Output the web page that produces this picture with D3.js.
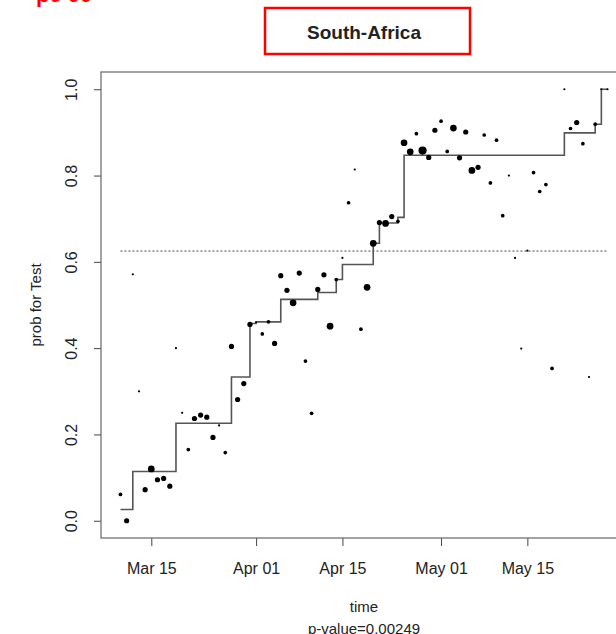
<!DOCTYPE html>
<html>
<head>
<meta charset="utf-8">
<script src="https://cdnjs.cloudflare.com/ajax/libs/d3/7.8.5/d3.min.js"></script>
<style>
  body { margin: 0; background: #fff; }
  svg { display: block; font-family: "Liberation Sans", Arial, sans-serif; }
</style>
</head>
<body>
<svg id="chart" width="616" height="634"></svg>
<script>
var width = 616,
    height = 634;

// daily estimates (point size ~ sample weight)
var dates = [
  "2020-03-10","2020-03-11","2020-03-12","2020-03-13","2020-03-14","2020-03-15","2020-03-16","2020-03-17",
  "2020-03-18","2020-03-19","2020-03-20","2020-03-21","2020-03-22","2020-03-23","2020-03-24","2020-03-25",
  "2020-03-26","2020-03-27","2020-03-28","2020-03-29","2020-03-30","2020-03-31","2020-04-01","2020-04-02",
  "2020-04-03","2020-04-04","2020-04-05","2020-04-06","2020-04-07","2020-04-08","2020-04-09","2020-04-10",
  "2020-04-11","2020-04-12","2020-04-13","2020-04-14","2020-04-15","2020-04-16","2020-04-17","2020-04-18",
  "2020-04-19","2020-04-20","2020-04-21","2020-04-22","2020-04-23","2020-04-24","2020-04-25","2020-04-26",
  "2020-04-27","2020-04-28","2020-04-29","2020-04-30","2020-05-01","2020-05-02","2020-05-03","2020-05-04",
  "2020-05-05","2020-05-06","2020-05-07","2020-05-08","2020-05-09","2020-05-10","2020-05-11","2020-05-12",
  "2020-05-13","2020-05-14","2020-05-15","2020-05-16","2020-05-17","2020-05-18","2020-05-19","2020-05-21",
  "2020-05-22","2020-05-23","2020-05-24","2020-05-25","2020-05-26","2020-05-27","2020-05-28"
];
var probs = [
  0.061,0.000,0.571,0.300,0.072,0.120,0.095,0.098,
  0.080,0.400,0.250,0.165,0.237,0.245,0.240,0.193,
  0.221,0.158,0.404,0.281,0.318,0.455,0.460,0.433,
  0.461,0.411,0.568,0.534,0.505,0.574,0.370,0.249,
  0.536,0.570,0.451,0.559,0.609,0.737,0.814,0.444,
  0.541,0.643,0.691,0.689,0.705,0.694,0.876,0.855,
  0.897,0.858,0.842,0.905,0.926,0.856,0.910,0.841,
  0.901,0.812,0.819,0.894,0.783,0.882,0.707,0.800,
  0.609,0.399,0.626,0.807,0.763,0.779,0.353,1.000,
  0.909,0.923,0.874,0.333,0.919,1.000,1.000
];
var weights = [
  2,3,1,1,3,4,3,3,
  3,1,1,2,3,3,3,3,
  1,2,3,3,3,3,1,2,
  2,3,3,3,4,3,2,2,
  3,3,4,2,1,2,1,2,
  4,4,3,4,3,2,4,4,
  2,5,3,3,2,2,4,3,
  3,4,3,2,2,2,2,1,
  1,1,1,2,2,2,2,1,
  2,3,2,1,2,1,1
];

// fitted step function
var stepDates = ["2020-03-10","2020-03-12","2020-03-19","2020-03-28","2020-03-31","2020-04-01","2020-04-05",
  "2020-04-11","2020-04-14","2020-04-15","2020-04-20","2020-04-21","2020-04-24","2020-04-25","2020-05-21",
  "2020-05-26","2020-05-27","2020-05-28"];
var stepLevels = [0.026,0.114,0.226,0.333,0.457,0.461,0.513,
  0.529,0.559,0.594,0.643,0.690,0.703,0.847,0.899,
  0.919,1.000,1.000];

var threshold = 0.625;
var xTicks = ["2020-03-15","2020-04-01","2020-04-15","2020-05-01","2020-05-15"];
var yTicks = [0, 0.2, 0.4, 0.6, 0.8, 1.0];
var title = "South-Africa";
var pvalue = "p-value=0.00249";

var parse = d3.utcParse("%Y-%m-%d");
var pts = dates.map(function(d, i) { return { t: parse(d), p: probs[i], w: weights[i] }; });
var steps = stepDates.map(function(d, i) { return { t: parse(d), p: stepLevels[i] }; });

var plotL = 101, plotR = 627, plotT = 72, plotB = 538;

var tExt = d3.extent(pts, d => d.t);
var pad = (tExt[1] - tExt[0]) * 0.04;
var x = d3.scaleUtc()
    .domain([new Date(+tExt[0] - pad), new Date(+tExt[1] + pad)])
    .range([plotL, plotR]);
var y = d3.scaleLinear().domain([-0.04, 1.04]).range([plotB, plotT]);
var r = d3.scaleLinear().domain([1, 5]).range([1.1, 4.1]);

var svg = d3.select("#chart");

// cut-off red label at the very top
svg.append("text")
    .attr("x", 36).attr("y", 2)
    .attr("fill", "#ff0000")
    .attr("font-weight", "bold")
    .attr("font-size", 22)
    .text("p0 00");

// title box
svg.append("rect")
    .attr("x", 265).attr("y", 8)
    .attr("width", 205).attr("height", 46)
    .attr("fill", "none")
    .attr("stroke", "#ff0000")
    .attr("stroke-width", 2.5);
svg.append("text")
    .attr("x", 364).attr("y", 39)
    .attr("text-anchor", "middle")
    .attr("font-weight", "bold")
    .attr("font-size", 19)
    .attr("fill", "#222")
    .text(title);

// axes
var xAxis = svg.append("g")
    .attr("transform", "translate(0," + plotB + ")")
    .call(d3.axisBottom(x).tickValues(xTicks.map(parse)).tickFormat(d3.utcFormat("%b %d")).tickSize(8).tickSizeOuter(0));
xAxis.select(".domain").remove();
xAxis.selectAll("line").attr("stroke", "#444");
xAxis.selectAll("text").attr("font-size", 16).attr("fill", "#222").attr("dy", "1.55em")
    .attr("font-family", "Liberation Sans, Arial, sans-serif");

var yAxis = svg.append("g")
    .attr("transform", "translate(" + plotL + ",0)")
    .call(d3.axisLeft(y).tickValues(yTicks).tickFormat(d3.format(".1f")).tickSize(7).tickSizeOuter(0));
yAxis.select(".domain").remove();
yAxis.selectAll("line").attr("stroke", "#444");
yAxis.selectAll("text")
    .attr("font-size", 16).attr("fill", "#222")
    .attr("font-family", "Liberation Sans, Arial, sans-serif")
    .attr("text-anchor", "middle")
    .attr("x", null).attr("dy", null)
    .attr("transform", "translate(-24,0) rotate(-90)");

// plot box
svg.append("rect")
    .attr("x", plotL).attr("y", plotT)
    .attr("width", plotR - plotL).attr("height", plotB - plotT)
    .attr("fill", "none")
    .attr("stroke", "#666")
    .attr("stroke-width", 1.2);

// axis titles
svg.append("text")
    .attr("transform", "translate(41," + ((plotT + plotB) / 2) + ") rotate(-90)")
    .attr("text-anchor", "middle")
    .attr("font-size", 15)
    .attr("fill", "#222")
    .text("prob for Test");
svg.append("text")
    .attr("x", (plotL + plotR) / 2).attr("y", 612)
    .attr("text-anchor", "middle")
    .attr("font-size", 15)
    .attr("fill", "#222")
    .text("time");
svg.append("text")
    .attr("x", (plotL + plotR) / 2).attr("y", 634)
    .attr("text-anchor", "middle")
    .attr("font-size", 15)
    .attr("fill", "#222")
    .text(pvalue);

// threshold
svg.append("line")
    .attr("x1", x(tExt[0])).attr("x2", x(tExt[1]))
    .attr("y1", y(threshold)).attr("y2", y(threshold))
    .attr("stroke", "#444")
    .attr("stroke-width", 1)
    .attr("stroke-dasharray", "2,2");

// step line
var line = d3.line()
    .x(d => x(d.t))
    .y(d => y(d.p))
    .curve(d3.curveStepAfter);
svg.append("path")
    .datum(steps)
    .attr("d", line)
    .attr("fill", "none")
    .attr("stroke", "#555")
    .attr("stroke-width", 1.6);

// points
svg.append("g").selectAll("circle")
    .data(pts)
    .enter()
    .append("circle")
    .attr("cx", d => x(d.t))
    .attr("cy", d => y(d.p))
    .attr("r", d => r(d.w))
    .attr("fill", "#000");
</script>
</body>
</html>
